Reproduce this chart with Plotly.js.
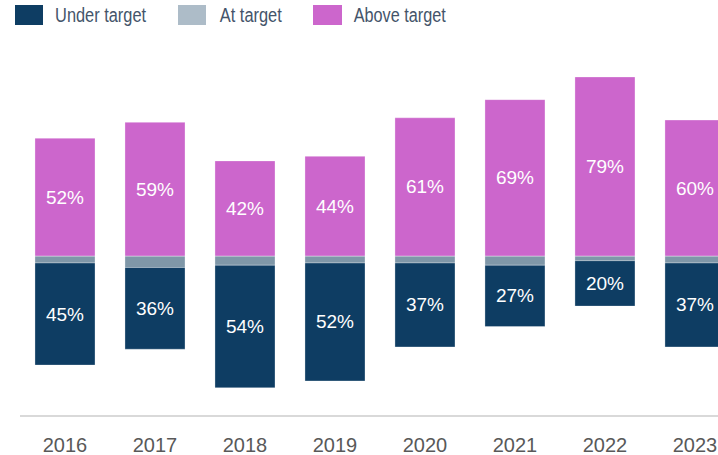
<!DOCTYPE html>
<html>
<head>
<meta charset="utf-8">
<script src="https://cdn.plot.ly/plotly-3.0.1.min.js"></script>
<style>
html,body{margin:0;padding:0;background:#fff;overflow:hidden;}
#chart{width:718px;height:455px;}
</style>
</head>
<body>
<div id="chart"></div>
<script>
var years = ['2016','2017','2018','2019','2020','2021','2022','2023'];
var underTarget = [45, 36, 54, 52, 37, 27, 20, 37];
var atTarget = [3, 5, 4, 3, 3, 4, 2, 3];
var aboveTarget = [52, 59, 42, 44, 61, 69, 79, 60];
var seriesNames = ['Under target', 'At target', 'Above target'];

var cUnder = '#0e3d63', cAt = '#7f97a8', cAtLegend = '#adbcc8', cAbove = '#cc66cc';
var pct = function(v){ return v + '%'; };
var neg = function(a){ return a.map(function(v){ return -v; }); };
var edge = {color:'rgba(255,255,255,0.5)', width:0.6};
var barFont = {color:'#ffffff', size:19, family:'Liberation Sans, Arial, sans-serif'};

var traces = [
  {type:'bar', x:years, y:aboveTarget, name:seriesNames[2], marker:{color:cAbove, line:edge},
   text:aboveTarget.map(pct), textposition:'inside', insidetextanchor:'middle',
   textfont:barFont, hoverinfo:'skip', showlegend:false},
  {type:'bar', x:years, y:neg(atTarget), name:seriesNames[1], marker:{color:cAt, line:edge},
   textposition:'none', hoverinfo:'skip', showlegend:false},
  {type:'bar', x:years, y:neg(underTarget), name:seriesNames[0], marker:{color:cUnder, line:edge},
   text:underTarget.map(pct), textposition:'inside', insidetextanchor:'middle',
   textfont:barFont, hoverinfo:'skip', showlegend:false}
];

var legendFont = {family:'Liberation Sans, Arial, sans-serif', size:20, color:'#44546a'};
var swatches = [
  {x0:15, x1:43, color:cUnder, tx:55, w:91, label:seriesNames[0]},
  {x0:178, x1:206, color:cAtLegend, tx:220, w:62, label:seriesNames[1]},
  {x0:313, x1:342, color:cAbove, tx:354, w:92, label:seriesNames[2]}
];
var shapes = [], annotations = [];
swatches.forEach(function(s){
  shapes.push({type:'rect', xref:'paper', yref:'paper',
    x0:(s.x0-20)/698, x1:(s.x1-20)/698,
    y0:(415-25)/363, y1:(415-5)/363,
    fillcolor:s.color, line:{width:0}});
  annotations.push({xref:'paper', yref:'paper', x:(s.tx + s.w/2 - 20)/698, y:(415-15)/363,
    xanchor:'center', yanchor:'middle', text:s.label, showarrow:false, font:legendFont});
});

var layout = {
  width:718, height:455,
  margin:{l:20, r:0, t:52, b:40},
  paper_bgcolor:'#ffffff', plot_bgcolor:'#ffffff',
  barmode:'relative', bargap:0.333,
  showlegend:false,
  xaxis:{type:'category', range:[-0.5, 7.256], showgrid:false, zeroline:false,
    showline:true, linecolor:'#d9d9d9', linewidth:2, ticks:'',
    tickfont:{family:'Liberation Sans, Arial, sans-serif', size:20, color:'#595959'},
    ticklabelstandoff:11, fixedrange:true},
  yaxis:{range:[-70, 90], visible:false, showgrid:false, zeroline:false, fixedrange:true},
  shapes:shapes, annotations:annotations,
  uniformtext:{mode:'show', minsize:10}
};

Plotly.newPlot('chart', traces, layout, {displayModeBar:false, staticPlot:true}).then(function(gd){
  // condense legend labels to the narrow face used in the reference
  var texts = gd.querySelectorAll('.annotation-text-g text');
  texts.forEach(function(t, i){
    if (swatches[i]) {
      t.setAttribute('textLength', swatches[i].w);
      t.setAttribute('lengthAdjust', 'spacingAndGlyphs');
    }
  });
});
</script>
</body>
</html>
